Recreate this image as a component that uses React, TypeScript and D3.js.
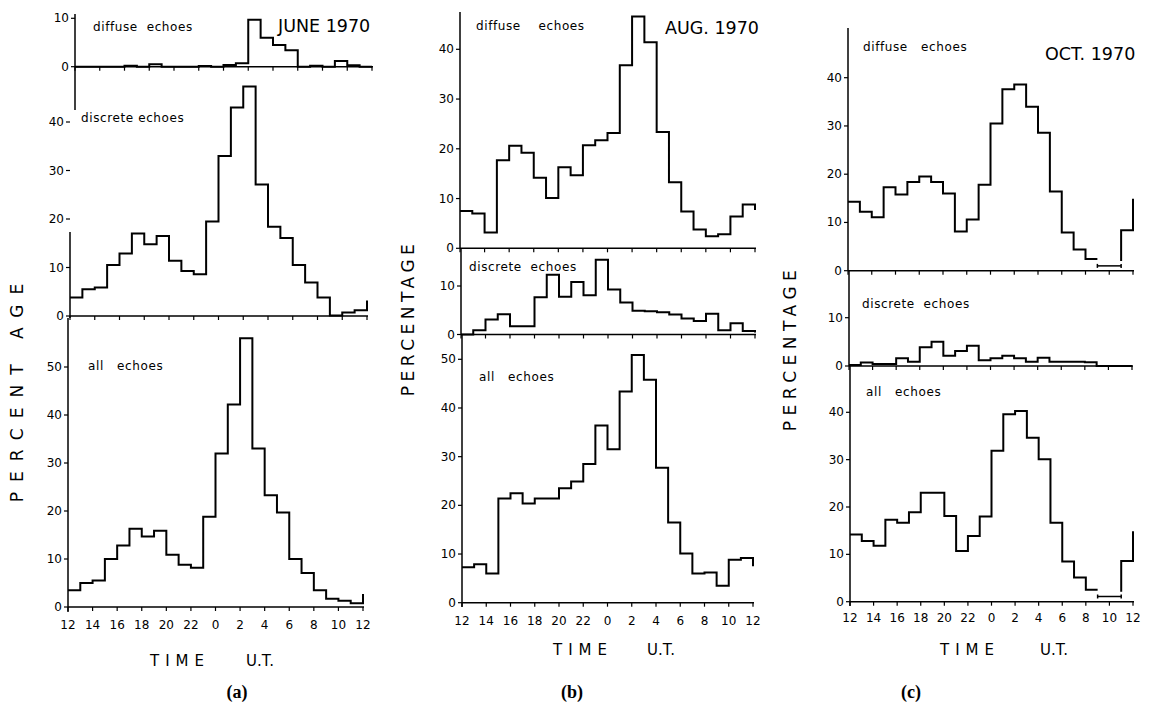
import React from "react";
import * as d3 from "d3";

// ---------- DATA (percentage per hourly bin, 12 UT -> 12 UT) ----------
const hourTickLabels = ["12", "14", "16", "18", "20", "22", "0", "2", "4", "6", "8", "10", "12"];

const juneDiffuse = [0, 0, 0, 0, 0.2, 0, 0.5, 0, 0, 0, 0.15, 0, 0.35, 0.7, 9.7, 6.0, 4.5, 3.4, 0, 0.2, 0, 1.2, 0.3, 0];
const juneDiffuseTail = 0;
const juneDiscrete = [3.8, 5.5, 5.9, 10.5, 12.9, 17.0, 14.8, 16.5, 11.4, 9.3, 8.6, 19.5, 33.0, 43.0, 47.3, 27.1, 18.4, 16.1, 10.5, 6.9, 3.8, 0.1, 0.7, 1.2];
const juneDiscreteTail = 3.2;
const juneAll = [3.5, 5.0, 5.5, 10.0, 12.8, 16.3, 14.7, 15.9, 10.9, 8.8, 8.2, 18.8, 32.0, 42.2, 56.0, 33.0, 23.3, 19.7, 10.0, 7.1, 3.5, 1.7, 1.3, 0.8];
const juneAllTail = 2.7;

const augDiffuse = [7.5, 7.0, 3.2, 17.7, 20.6, 19.2, 14.2, 10.1, 16.3, 14.7, 20.7, 21.7, 23.2, 36.8, 46.6, 41.4, 23.4, 13.3, 7.4, 3.8, 2.4, 2.8, 6.4, 8.8];
const augDiffuseTail = 7.7;
const augDiscrete = [0, 0.9, 3.1, 4.2, 1.7, 1.7, 7.7, 12.3, 7.8, 10.8, 8.1, 15.4, 9.3, 6.6, 4.9, 4.8, 4.6, 4.1, 3.3, 2.8, 4.3, 0.9, 2.3, 0.7];
const augDiscreteTail = 0.4;
const augAll = [7.3, 7.9, 6.0, 21.4, 22.5, 20.4, 21.4, 21.4, 23.5, 24.9, 28.5, 36.4, 31.5, 43.4, 50.9, 45.8, 27.7, 16.5, 10.1, 6.0, 6.2, 3.5, 8.8, 9.2];
const augAllTail = 7.5;

const octDiffuse = [14.3, 12.2, 11.1, 17.3, 15.8, 18.4, 19.5, 18.4, 16.0, 8.1, 10.6, 17.8, 30.5, 37.6, 38.6, 34.0, 28.6, 16.4, 7.9, 4.4, 2.4, null, null, 8.4];
const octDiffuseTail = 14.9;
const octDiffuseGap = 1.0;
const octDiscrete = [0.2, 0.7, 0.4, 0.4, 1.6, 0.9, 3.9, 5.0, 2.1, 3.1, 4.2, 1.2, 1.6, 2.1, 1.6, 0.9, 1.7, 0.9, 0.9, 0.9, 0.8, 0, 0, 0];
const octDiscreteTail = 0;
const octAll = [14.2, 12.8, 11.8, 17.3, 16.7, 18.9, 23.0, 23.0, 18.1, 10.7, 13.9, 18.0, 31.9, 39.6, 40.3, 34.6, 30.1, 16.7, 8.5, 5.1, 2.5, null, null, 8.6];
const octAllTail = 14.9;
const octAllGap = 1.1;

const ticks10 = [0, 10];
const ticks40 = [0, 10, 20, 30, 40];
const ticks50 = [0, 10, 20, 30, 40, 50];

// ---------- LAYOUT ----------
type Sub = {
  values: (number | null)[];
  tail: number | null;
  gap?: number;
  x0: number; x1: number;
  yZero: number; yRef: number; refVal: number;
  axisTop: number; axisBottom: number;
  ticks: number[];
  label: string; lx: number; ly: number;
  xLabels?: number;
};

const FONT = "'DejaVu Sans', 'Liberation Sans', sans-serif";

const subs: Sub[] = [
  // (a) June
  { values: juneDiffuse, tail: juneDiffuseTail, x0: 75, x1: 372, yZero: 66.7, yRef: 18.3, refVal: 10, axisTop: 14, axisBottom: 110, ticks: ticks10, label: "diffuse  echoes", lx: 93, ly: 31 },
  { values: juneDiscrete, tail: juneDiscreteTail, x0: 70, x1: 367, yZero: 316, yRef: 267.5, refVal: 10, axisTop: 232, axisBottom: 318, ticks: ticks40, label: "discrete echoes", lx: 81, ly: 122 },
  { values: juneAll, tail: juneAllTail, x0: 68, x1: 363, yZero: 607, yRef: 367, refVal: 50, axisTop: 318, axisBottom: 612, ticks: ticks50, label: "all   echoes", lx: 88, ly: 370, xLabels: 629 },
  // (b) Aug
  { values: augDiffuse, tail: augDiffuseTail, x0: 460, x1: 755, yZero: 248.3, yRef: 49.3, refVal: 40, axisTop: 12, axisBottom: 248.3, ticks: ticks40, label: "diffuse    echoes", lx: 476, ly: 30 },
  { values: augDiscrete, tail: augDiscreteTail, x0: 461, x1: 755, yZero: 334.5, yRef: 286, refVal: 10, axisTop: 248.3, axisBottom: 334.5, ticks: ticks10, label: "discrete  echoes", lx: 469, ly: 271 },
  { values: augAll, tail: augAllTail, x0: 462, x1: 753, yZero: 602.7, yRef: 359.3, refVal: 50, axisTop: 334.5, axisBottom: 607, ticks: ticks50, label: "all   echoes", lx: 479, ly: 381, xLabels: 625 },
  // (c) Oct
  { values: octDiffuse, tail: octDiffuseTail, gap: octDiffuseGap, x0: 848, x1: 1133, yZero: 270.7, yRef: 77.7, refVal: 40, axisTop: 28, axisBottom: 270.7, ticks: ticks40, label: "diffuse   echoes", lx: 863, ly: 51 },
  { values: octDiscrete, tail: octDiscreteTail, x0: 849, x1: 1132, yZero: 366, yRef: 317.7, refVal: 10, axisTop: 270.7, axisBottom: 366, ticks: ticks10, label: "discrete  echoes", lx: 862, ly: 308 },
  { values: octAll, tail: octAllTail, gap: octAllGap, x0: 850, x1: 1133, yZero: 601.7, yRef: 412.3, refVal: 40, axisTop: 366, axisBottom: 606, ticks: ticks40, label: "all   echoes", lx: 866, ly: 396, xLabels: 622 },
];

const titles = [
  { text: "JUNE 1970", x: 278, y: 32 },
  { text: "AUG. 1970", x: 665, y: 34 },
  { text: "OCT. 1970", x: 1045, y: 60 },
];

const yTitles = [
  { text: "PERCENT AGE", x: 23, y: 388, spacing: 10 },
  { text: "PERCENTAGE", x: 414, y: 318, spacing: 4.5 },
  { text: "PERCENTAGE", x: 796, y: 348, spacing: 5.5 },
];

const xTitles = [
  { x: 150, ux: 246, y: 666 },
  { x: 553, ux: 647, y: 655 },
  { x: 940, ux: 1040, y: 655 },
];

const panelLabels = [
  { text: "(a)", x: 237, y: 698 },
  { text: "(b)", x: 572, y: 698 },
  { text: "(c)", x: 911, y: 698 },
];

function stepPath(s: Sub, x: d3.ScaleLinear<number, number>, y: d3.ScaleLinear<number, number>) {
  const p = d3.path();
  let down = false;
  let afterGap = false;
  s.values.forEach((v, i) => {
    if (v == null) {
      if (down) afterGap = true;
      down = false;
      return;
    }
    if (!down) {
      if (afterGap && s.gap != null) {
        p.moveTo(x(i), y(s.gap + 1));
        p.lineTo(x(i), y(v));
      } else {
        p.moveTo(x(i), y(v));
      }
      down = true;
    } else {
      p.lineTo(x(i), y(v));
    }
    p.lineTo(x(i + 1), y(v));
  });
  if (s.tail != null && down) p.lineTo(x(s.values.length), y(s.tail));
  return p.toString();
}

function SubPanel({ s }: { s: Sub }) {
  const x = d3.scaleLinear().domain([0, 24]).range([s.x0, s.x1]);
  const y = d3.scaleLinear().domain([0, s.refVal]).range([s.yZero, s.yRef]);
  const xt = d3.range(0, 25, 2);
  // gap bracket
  const gapIdx = s.values.map((v, i) => (v == null ? i : -1)).filter((i) => i >= 0);
  return (
    <g>
      {/* y axis */}
      <line x1={s.x0} x2={s.x0} y1={s.axisTop} y2={s.axisBottom} stroke="#000" strokeWidth={1.5} />
      {s.ticks.map((t) => (
        <g key={t}>
          <line x1={s.x0 - 4} x2={s.x0} y1={y(t)} y2={y(t)} stroke="#000" strokeWidth={1.2} />
          <text x={s.x0 - 6} y={y(t) + 4} textAnchor="end" fontSize={12} fontFamily={FONT}>{t}</text>
        </g>
      ))}
      {/* baseline */}
      <line x1={s.x0} x2={s.x1 + 1} y1={s.yZero} y2={s.yZero} stroke="#000" strokeWidth={1.4} />
      {xt.map((h) => (
        <line key={h} x1={x(h)} x2={x(h)} y1={s.yZero} y2={s.yZero + 4} stroke="#000" strokeWidth={1.2} />
      ))}
      {s.xLabels != null &&
        xt.map((h, i) => (
          <text key={"l" + h} x={x(h)} y={s.xLabels} textAnchor="middle" fontSize={12} fontFamily={FONT}>
            {hourTickLabels[i]}
          </text>
        ))}
      {/* histogram */}
      <path d={stepPath(s, x, y)} fill="none" stroke="#000" strokeWidth={2} strokeLinejoin="miter" />
      {gapIdx.length > 0 && s.gap != null && (
        <g stroke="#000" strokeWidth={1.5}>
          <line x1={x(gapIdx[0])} x2={x(gapIdx[gapIdx.length - 1] + 1)} y1={y(s.gap)} y2={y(s.gap)} />
          <line x1={x(gapIdx[0])} x2={x(gapIdx[0])} y1={y(s.gap) - 2} y2={y(s.gap) + 2} />
          <line x1={x(gapIdx[gapIdx.length - 1] + 1)} x2={x(gapIdx[gapIdx.length - 1] + 1)} y1={y(s.gap) - 2} y2={y(s.gap) + 2} />
        </g>
      )}
      <text x={s.lx} y={s.ly} fontSize={12} fontFamily={FONT} letterSpacing={0.6} style={{ whiteSpace: "pre" }}>
        {s.label}
      </text>
    </g>
  );
}

export default function App() {
  return (
    <svg width={1149} height={715} style={{ position: "absolute", left: 0, top: 0, background: "#fff" }}>
      <rect width={1149} height={715} fill="#fff" />
      {subs.map((s, i) => (
        <SubPanel key={i} s={s} />
      ))}
      {titles.map((t) => (
        <text key={t.text} x={t.x} y={t.y} fontSize={17.5} fontFamily={FONT}>{t.text}</text>
      ))}
      {yTitles.map((t, i) => (
        <text key={i} transform={`translate(${t.x},${t.y}) rotate(-90)`} textAnchor="middle" fontSize={17} fontFamily={FONT} letterSpacing={t.spacing} style={{ whiteSpace: "pre" }}>
          {t.text}
        </text>
      ))}
      {xTitles.map((t, i) => (
        <g key={i}>
          <text x={t.x} y={t.y} fontSize={15} fontFamily={FONT} letterSpacing={6}>TIME</text>
          <text x={t.ux} y={t.y} fontSize={15} fontFamily={FONT}>U.T.</text>
        </g>
      ))}
      {panelLabels.map((t) => (
        <text key={t.text} x={t.x} y={t.y} textAnchor="middle" fontSize={18} fontWeight="bold" fontFamily="'Liberation Serif', 'DejaVu Serif', serif">
          {t.text}
        </text>
      ))}
    </svg>
  );
}
